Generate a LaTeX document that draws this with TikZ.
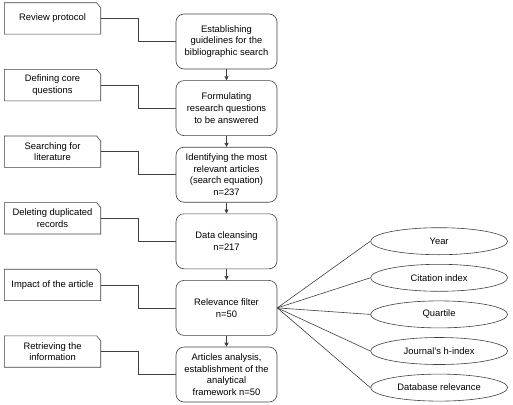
\documentclass[tikz,border=0pt]{standalone}
\usepackage{fontspec}
\setmainfont{Liberation Sans}
\usepackage{tikz}
\usetikzlibrary{positioning,arrows.meta,shapes.geometric}
\definecolor{edge}{HTML}{404040}

\begin{document}
\begin{tikzpicture}[
    font=\fontsize{9.4}{11.7}\selectfont,
    stagebox/.style = {rectangle, rounded corners=8pt, draw=edge, line width=0.6pt, minimum width=101pt, minimum height=55pt, align=center, inner sep=2pt},
    notebox/.style = {rectangle, minimum width=96pt, minimum height=31pt, align=center, inner sep=1pt,
        append after command={\pgfextra{\draw[edge, line width=0.6pt]
            (\tikzlastnode.south west) -- (\tikzlastnode.north west)
            -- ([xshift=-4pt]\tikzlastnode.north east) -- ([yshift=-5pt]\tikzlastnode.north east)
            -- (\tikzlastnode.south east) -- cycle;}}},
    critbox/.style = {ellipse, draw=edge, line width=0.6pt, minimum width=137pt, minimum height=27pt, inner sep=0pt},
    link/.style = {draw=edge, line width=0.6pt},
    flow/.style = {draw=edge, line width=0.6pt, -{Triangle[length=4pt,width=4pt]}},
]
    \useasboundingbox (0,0) rectangle (513pt,-404pt);

    % main stages
    \node[stagebox] (s1) at (226.5pt,-41.5pt) {Establishing\\ guidelines for the\\ bibliographic search};
    \node[stagebox, below=11pt of s1] (s2) {Formulating\\ research questions\\ to be answered};
    \node[stagebox, below=11pt of s2] (s3) {Identifying the most\\ relevant articles\\ (search equation)\\ n=237};
    \node[stagebox, below=11pt of s3] (s4) {Data cleansing\\ n=217};
    \node[stagebox, below=11pt of s4] (s5) {Relevance filter\\ n=50};
    \node[stagebox, below=11pt of s5] (s6) {Articles analysis,\\ establishment of the\\ analytical\\ framework n=50};

    % side notes
    \node[notebox, left=75pt of s1.west, yshift=23pt] (n1) {Review protocol};
    \node[notebox, left=75pt of s2.west, yshift=23pt] (n2) {Defining core\\ questions};
    \node[notebox, left=75pt of s3.west, yshift=23pt] (n3) {Searching for\\ literature};
    \node[notebox, left=75pt of s4.west, yshift=23pt] (n4) {Deleting duplicated\\ records};
    \node[notebox, left=75pt of s5.west, yshift=23pt] (n5) {Impact of the article};
    \node[notebox, left=75pt of s6.west, yshift=23pt] (n6) {Retrieving the\\ information};

    % filter criteria
    \node[critbox, right=93pt of s5.east, yshift=-6.5pt] (quart) {Quartile};
    \node[critbox, above=9pt of quart] (cit) {Citation index};
    \node[critbox, above=9pt of cit] (year) {Year};
    \node[critbox, below=9pt of quart] (hidx) {Journal's h-index};
    \node[critbox, below=9pt of hidx] (dbrel) {Database relevance};

    % connectors
    \foreach \i in {1,...,6}
        \draw[link] (n\i.east) -| ([xshift=-37pt]s\i.west) -- (s\i.west);
    \foreach \a/\b in {s1/s2,s2/s3,s3/s4,s4/s5,s5/s6}
        \draw[flow] (\a) -- (\b);
    \foreach \c in {year,cit,quart,hidx,dbrel}
        \draw[link] (s5.east) -- (\c.west);

\end{tikzpicture}
\end{document}
